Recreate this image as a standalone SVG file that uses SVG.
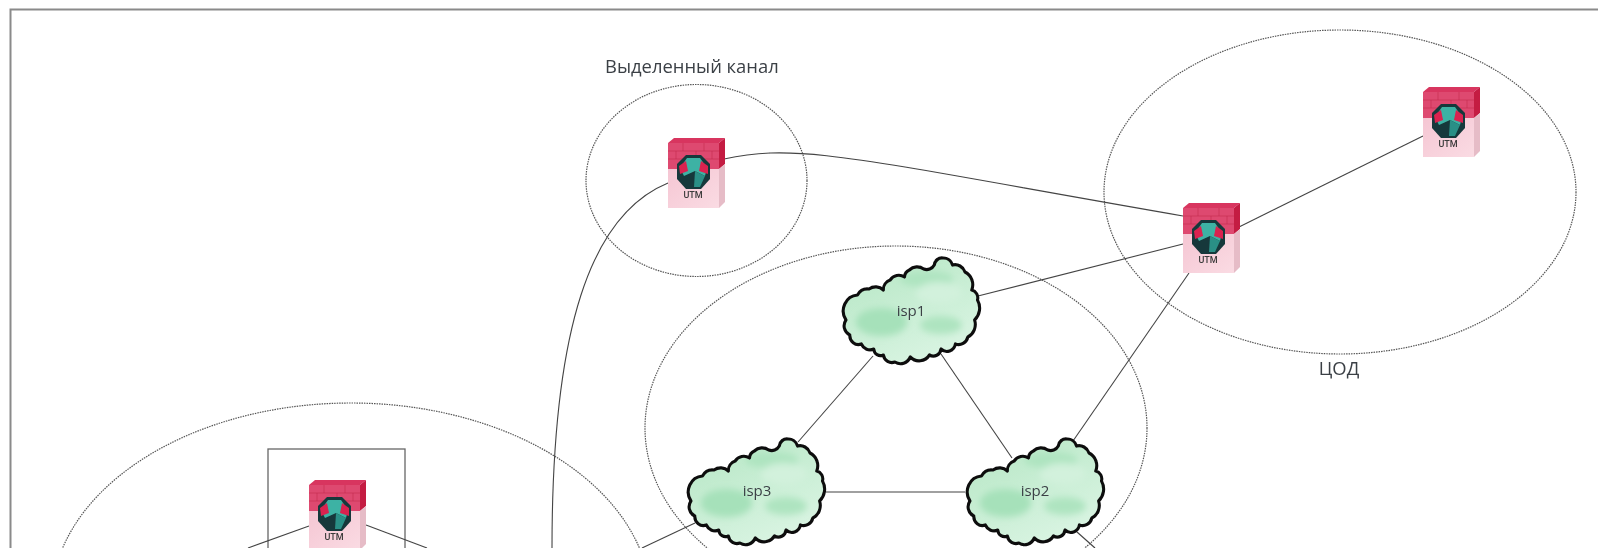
<svg xmlns="http://www.w3.org/2000/svg" width="1598" height="548" viewBox="0 0 1598 548">
<style>
text{font-family:"Open Sans","Noto Sans","Liberation Sans",sans-serif;fill:#3a3f45}
.zone{fill:none;stroke:#555;stroke-width:1.2;stroke-dasharray:1.5 1}
.link{fill:none;stroke:#444;stroke-width:1.1}
.lbl{font-size:18.4px}
.isp{font-size:15px;text-anchor:middle}
.cf{fill:url(#cg)}
.cs{fill:none;stroke:#111;stroke-width:3.2;stroke-linejoin:round}
.utm{font-family:Roboto,"Liberation Sans",sans-serif;font-size:9px;font-weight:500;text-anchor:middle;fill:#3a3a3a}
</style>
<defs>
<linearGradient id="cg" x1="0" y1="0" x2="0.6" y2="1"><stop offset="0" stop-color="#b4e6c3"/><stop offset="1" stop-color="#d9f4e2"/></linearGradient>
<linearGradient id="pk" x1="0" y1="0" x2="1" y2="1"><stop offset="0" stop-color="#f5c6d3"/><stop offset="1" stop-color="#fadbe3"/></linearGradient>
<filter id="b" x="-40%" y="-40%" width="180%" height="180%"><feGaussianBlur stdDeviation="3.5"/></filter>
<filter id="soft" x="-2%" y="-2%" width="104%" height="104%"><feGaussianBlur stdDeviation="0.45"/></filter>
<path id="cp" d="M1 63A16 16 0 0 1 13 38A12 12 0 0 1 25 32A12 12 0 0 1 40 33A10 10 0 0 1 47 23A11 11 0 0 1 62 20A8 8 0 0 1 67 13A12 12 0 0 1 82 12A9 9 0 0 0 93 8A8 8 0 0 1 102 1A10 10 0 0 1 112 8A11 11 0 0 1 125 15A14 14 0 0 1 132 33A8 8 0 0 1 138 43A16 16 0 0 1 135 63A14 14 0 0 1 128 80A10 10 0 0 1 115 87A9 9 0 0 1 100 92A8 8 0 0 1 88 98A13 13 0 0 1 68 100A11 11 0 0 1 52 105A9 9 0 0 1 40 98A7 7 0 0 1 30 92A10 10 0 0 1 17 87A9 9 0 0 1 5 78A10 10 0 0 1 1 63Z"/>
<clipPath id="cc"><use href="#cp"/></clipPath>
<g id="cloud">
<g transform="translate(3 0) scale(.96 1)">
<use href="#cp" class="cf"/>
<g clip-path="url(#cc)">
<g filter="url(#b)">
<ellipse cx="38" cy="65" rx="27" ry="14" fill="#a6e1ba"/>
<ellipse cx="100" cy="68" rx="22" ry="9" fill="#aee4c0"/>
<ellipse cx="85" cy="22" rx="28" ry="8" fill="#aee4c0"/>
<ellipse cx="98" cy="36" rx="24" ry="11" fill="#d2f1dc"/>
</g>
</g>
<use href="#cp" class="cs"/>
</g>
</g>
<g id="fw">
<polygon points="0,5 6,0 57,0 51,5" fill="#d8365e"/>
<rect x="0" y="5" width="51" height="26" fill="#de4a6f"/>
<polygon points="51,5 57,0 57,26 51,31" fill="#c41a42"/>
<rect x="0" y="31" width="51" height="39" fill="url(#pk)"/>
<polygon points="51,31 57,26 57,64 51,70" fill="#e6bcc7"/>
<path d="M0 13H51M0 21H51M15 5V13M36 5V13M8 13V21M28 13V21M44 13V21" stroke="#c4294f" stroke-width=".6" fill="none"/>
<polygon points="18,17 33,17 42,26 42,41 33,51 18,51 9,41 9,26" fill="#17383a"/>
<polygon points="19,20 32,20 39,30 37,38 27,33 16,38 12,30" fill="#3eb2a4"/>
<polygon points="27,33 37,38 32,49 26,49" fill="#2a8f86"/>
<polygon points="11,28 18,23 20,33 12,36" fill="#d9224f"/>
<polygon points="33,23 40,28 40,36 31,33" fill="#d9224f"/>
<text class="utm" x="25" y="60">UTM</text>
</g>
</defs>
<rect width="1598" height="548" fill="#fff"/>
<g filter="url(#soft)">
<path d="M10.5 548V9.5H1598" fill="none" stroke="#8a8a8a" stroke-width="2"/>
<g id="zones">
<ellipse class="zone" cx="696.5" cy="180.5" rx="110.5" ry="96"/>
<ellipse class="zone" cx="1340" cy="192" rx="236" ry="162"/>
<ellipse class="zone" cx="896" cy="428" rx="251" ry="182"/>
<ellipse class="zone" cx="351" cy="603" rx="300" ry="200"/>
</g>
<rect id="box" x="268" y="449" width="137" height="110" fill="none" stroke="#666" stroke-width="1.3"/>
<g id="connectors">
<path class="link" d="M668 183C590 215 552 330 552 548"/>
<path class="link" d="M724 159C800 142 860 160 1183 216"/>
<path class="link" d="M1239 227L1423 136"/>
<path class="link" d="M978 296L1183 244"/>
<path class="link" d="M1189 273L1073 441"/>
<path class="link" d="M873 356L798 442"/>
<path class="link" d="M941 354L1012 458"/>
<path class="link" d="M826 492H965"/>
<path class="link" d="M695 523L642 548"/>
<path class="link" d="M1077 532L1095 548"/>
<path class="link" d="M309 526L248 548"/>
<path class="link" d="M366 525L427 548"/>
</g>
<g id="utm-channel"><use href="#fw" x="668" y="138"/></g>
<g id="utm-main"><use href="#fw" x="1183" y="203"/></g>
<g id="utm-top"><use href="#fw" x="1423" y="87"/></g>
<g id="utm-left"><use href="#fw" x="309" y="480"/></g>
<g id="isp1"><use href="#cloud" x="842" y="257"/><text class="isp" x="911" y="316">isp1</text></g>
<g id="isp3"><use href="#cloud" x="687" y="438"/><text class="isp" x="757" y="496">isp3</text></g>
<g id="isp2"><use href="#cloud" x="966" y="438"/><text class="isp" x="1035" y="496">isp2</text></g>
<text class="lbl" x="605" y="73">Выделенный канал</text>
<text class="lbl" x="1339" y="375" text-anchor="middle">ЦОД</text>
</g>
</svg>
